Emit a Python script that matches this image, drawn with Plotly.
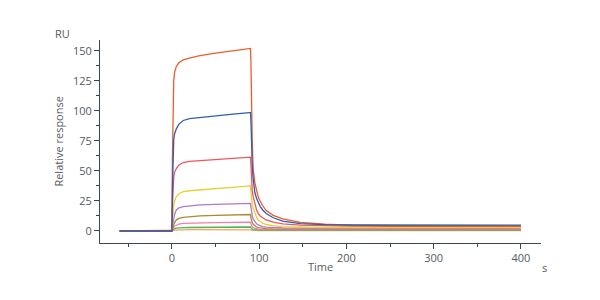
import plotly.graph_objects as go

# time points (s)
time = [-60, 0, 0.5, 1, 2, 3, 5, 8, 13, 20, 32, 50, 70, 89, 90, 90.5, 91, 92, 93, 95, 97, 99,
        101, 104, 108, 116, 127, 147, 175, 205, 250, 300, 350, 400]

light_orange = [0, 0, 0.2, 0.4, 0.6, 0.8, 0.9, 1.0, 1.1, 1.1, 1.2, 1.3, 1.4, 1.5, 1.5, 1.3, 1.0, 0.8,
                0.6, 0.5, 0.45, 0.4, 0.4, 0.4, 0.4, 0.35, 0.35, 0.35, 0.3, 0.3, 0.3, 0.3, 0.3, 0.3]
green = [0, 0, 0.5, 1.0, 1.6, 2.0, 2.4, 2.7, 2.8, 2.9, 3.0, 3.1, 3.2, 3.3, 3.3, 2.8, 2.2, 1.6,
         1.2, 0.9, 0.8, 0.75, 0.7, 0.7, 0.65, 0.6, 0.6, 0.6, 0.55, 0.55, 0.5, 0.5, 0.5, 0.5]
pink = [0, 0, 1.0, 2.0, 3.2, 4.0, 5.0, 5.8, 6.3, 6.5, 6.7, 6.9, 7.1, 7.3, 7.3, 6.0, 4.5, 3.5,
        2.8, 2.2, 1.8, 1.6, 1.4, 1.3, 1.2, 1.15, 1.1, 1.1, 1.05, 1.0, 1.0, 1.0, 1.0, 1.0]
olive = [0, 0, 2.0, 3.5, 5.5, 7.0, 9.3, 10.5, 11.4, 12.0, 12.6, 13.0, 13.3, 13.7, 13.7, 11.0, 9.0, 7.0,
         5.5, 4.0, 3.3, 2.8, 2.5, 2.2, 2.0, 1.8, 1.75, 1.7, 1.7, 1.65, 1.6, 1.6, 1.6, 1.6]
purple = [0, 0, 4.0, 7.0, 11.0, 14.0, 17.5, 19.3, 20.3, 21.0, 21.7, 22.2, 22.6, 23.0, 23.0, 20.0, 16.0, 13.0,
          10.0, 7.5, 6.0, 5.0, 4.3, 3.6, 3.2, 2.8, 2.5, 2.4, 2.3, 2.3, 2.2, 2.2, 2.2, 2.2]
yellow = [0, 0, 8.0, 14.0, 21.0, 25.0, 28.6, 31.0, 32.8, 33.5, 34.2, 35.3, 36.4, 37.5, 37.5, 33.0, 27.0, 22.0,
          19.0, 15.0, 11.5, 9.0, 7.8, 6.5, 5.4, 4.4, 3.7, 3.2, 3.0, 2.9, 2.8, 2.8, 2.8, 2.8]
red = [0, 0, 20.0, 35.0, 45.0, 49.0, 52.0, 55.0, 57.0, 58.0, 58.6, 59.5, 60.5, 61.5, 61.5, 55.0, 44.0, 34.0,
       29.0, 22.0, 17.5, 14.5, 12.5, 11.0, 9.2, 7.3, 5.9, 4.8, 4.3, 4.0, 3.9, 3.8, 3.8, 3.8]
orange = [0, 0, 60.0, 105.0, 125.0, 132.0, 137.0, 140.0, 142.5, 144.0, 146.0, 148.0, 150.0, 152.0, 152.0, 140.0,
          112.0, 75.0, 52.0, 40.0, 34.0, 28.0, 25.0, 21.0, 17.0, 13.0, 10.0, 7.2, 5.6, 4.8, 4.5, 4.4, 4.3, 4.3]
blue = [0, 0, 35.0, 60.0, 76.0, 81.0, 85.0, 89.0, 92.0, 93.5, 94.5, 96.0, 97.3, 98.6, 98.6, 92.0, 76.0, 55.0,
        44.0, 32.0, 27.0, 23.5, 20.5, 17.5, 14.5, 11.0, 8.2, 6.2, 5.3, 5.0, 4.9, 4.9, 4.8, 4.8]

series = [
    (light_orange, "#F7A35C"),
    (green, "#4DB356"),
    (pink, "#F27EB0"),
    (olive, "#A88A35"),
    (purple, "#B577C9"),
    (yellow, "#E6D12E"),
    (red, "#F2545B"),
    (orange, "#EB5B2B"),
    (blue, "#2C5FB0"),
]

fig = go.Figure()
for vals, col in series:
    fig.add_trace(go.Scatter(x=time, y=vals, mode="lines",
                             line=dict(color=col, width=1.3), showlegend=False,
                             hoverinfo="skip"))

axis_col = "#3c4650"
tick_font = dict(family="Open Sans", size=11, color="#555b62")

fig.update_layout(
    width=600, height=300,
    margin=dict(l=100, r=59, t=40, b=57),
    paper_bgcolor="white", plot_bgcolor="white",
    font=dict(family="Open Sans", color="#555b62"),
    xaxis=dict(range=[-82.5, 423], showgrid=False, zeroline=False,
               showline=True, linecolor=axis_col, linewidth=1,
               ticks="outside", ticklen=5, tickcolor=axis_col,
               tick0=0, dtick=100, tickfont=tick_font,
               minor=dict(ticks="outside", ticklen=3, tickcolor=axis_col, dtick=50, tick0=0)),
    yaxis=dict(range=[-10, 159], showgrid=False, zeroline=False,
               showline=True, linecolor=axis_col, linewidth=1,
               ticks="outside", ticklen=5, tickcolor=axis_col,
               tick0=0, dtick=25, tickfont=tick_font,
               minor=dict(ticks="outside", ticklen=3, tickcolor=axis_col, dtick=12.5, tick0=0)),
    annotations=[
        dict(text="RU", xref="paper", yref="paper", x=-0.086, y=1.034,
             showarrow=False, font=dict(family="Open Sans", size=11, color="#555b62"),
             xanchor="center", yanchor="middle"),
        dict(text="Relative response", xref="paper", yref="paper", x=-0.095, y=0.5,
             textangle=-90, showarrow=False,
             font=dict(family="Open Sans", size=11, color="#555b62"),
             xanchor="center", yanchor="middle"),
        dict(text="Time", xref="paper", yref="paper", x=0.499, y=-0.118,
             showarrow=False, font=dict(family="Open Sans", size=11, color="#555b62"),
             xanchor="center", yanchor="middle"),
        dict(text="s", xref="paper", yref="paper", x=1.007, y=-0.123,
             showarrow=False, font=dict(family="Open Sans", size=11, color="#555b62"),
             xanchor="center", yanchor="middle"),
    ],
)

fig.write_html("out.html")
